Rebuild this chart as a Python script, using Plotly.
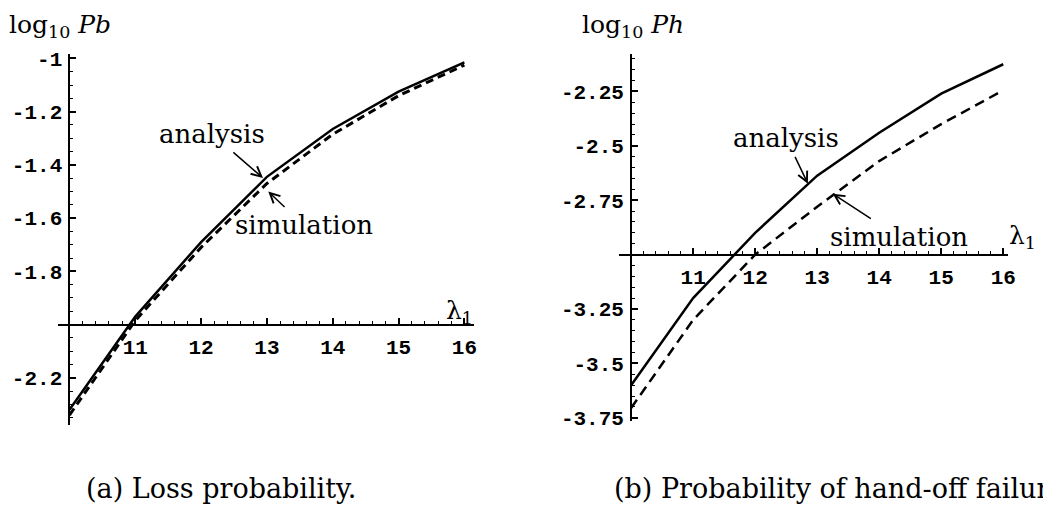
import plotly.graph_objects as go

W, H = 1043, 523

# arrival rate lambda_1
lam = [10, 11, 12, 13, 14, 15, 16]

# (a) log10 of loss probability
pb_analysis = [-2.32, -1.97, -1.69, -1.445, -1.265, -1.125, -1.015]
pb_simulation = [-2.34, -1.985, -1.71, -1.47, -1.285, -1.14, -1.025]

# (b) log10 of hand-off failure probability
ph_analysis = [-3.60, -3.20, -2.90, -2.637, -2.44, -2.26, -2.125]
ph_simulation = [-3.705, -3.30, -3.00, -2.78, -2.57, -2.40, -2.245]

x_ticks = [11, 12, 13, 14, 15, 16]
x_ticktext = ["11", "12", "13", "14", "15", "16"]
pb_ticks = [-2.2, -1.8, -1.6, -1.4, -1.2, -1.0]
pb_ticktext = ["-2.2", "-1.8", "-1.6", "-1.4", "-1.2", "-1"]
ph_ticks = [-3.75, -3.5, -3.25, -2.75, -2.5, -2.25]
ph_ticktext = ["-3.75", "-3.5", "-3.25", "-2.75", "-2.5", "-2.25"]

TICK_FONT = dict(family="Liberation Mono", size=21, color="black", weight="bold")
TEXT_FONT = "DejaVu Serif"


def panel(origin, origin_px, scale, xline, yline):
    """Axis layout for a Mathematica-style frame whose axes cross at `origin`."""
    (x0, y0), (ox, oy), (sx, sy) = origin, origin_px, scale
    xl, xr = xline
    yt, yb = yline
    xdom = [xl / W, xr / W]
    xrng = [x0 - (ox - xl) / sx, x0 + (xr - ox) / sx]
    ydom = [1 - yb / H, 1 - yt / H]
    yrng = [y0 - (yb - oy) / sy, y0 + (oy - yt) / sy]
    return xdom, xrng, 1 - oy / H, ydom, yrng, ox / W


def axis_common():
    return dict(
        showgrid=False, zeroline=False, showline=True, linecolor="black",
        linewidth=2, ticks="inside", ticklen=6, tickwidth=1.5, tickcolor="black",
        tickfont=TICK_FONT, anchor="free", fixedrange=True,
    )


a_xdom, a_xrng, a_xpos, a_ydom, a_yrng, a_ypos = panel(
    (10, -2.0), (70, 329), (66.33, 274), (58, 478), (50, 432))
b_xdom, b_xrng, b_xpos, b_ydom, b_yrng, b_ypos = panel(
    (10, -3.0), (636, 257), (62.5, 224), (624, 1016), (50, 428))

fig = go.Figure()
fig.add_trace(go.Scatter(x=lam, y=pb_analysis, mode="lines", xaxis="x", yaxis="y",
                         line=dict(color="black", width=2.5)))
fig.add_trace(go.Scatter(x=lam, y=pb_simulation, mode="lines", xaxis="x", yaxis="y",
                         line=dict(color="black", width=3, dash="8px,5px")))
fig.add_trace(go.Scatter(x=lam, y=ph_analysis, mode="lines", xaxis="x2", yaxis="y2",
                         line=dict(color="black", width=2.5)))
fig.add_trace(go.Scatter(x=lam, y=ph_simulation, mode="lines", xaxis="x2", yaxis="y2",
                         line=dict(color="black", width=2.5, dash="10px,6px")))

x_minor = dict(ticks="inside", ticklen=3, tickwidth=1, tickcolor="black", dtick=0.2, tick0=0)
y_minor = dict(ticks="inside", ticklen=3, tickwidth=1, tickcolor="black", dtick=0.05, tick0=0)

fig.update_layout(
    width=W, height=H, autosize=False,
    margin=dict(l=0, r=0, t=0, b=0),
    paper_bgcolor="white", plot_bgcolor="rgba(0,0,0,0)",
    showlegend=False,
    xaxis=dict(axis_common(), domain=a_xdom, range=a_xrng, position=a_xpos,
               tickmode="array", tickvals=x_ticks, ticktext=x_ticktext, minor=x_minor,
               ticklabelstandoff=3),
    yaxis=dict(axis_common(), domain=a_ydom, range=a_yrng, position=a_ypos,
               tickmode="array", tickvals=pb_ticks, ticktext=pb_ticktext, minor=y_minor,
               ticklabelstandoff=2),
    xaxis2=dict(axis_common(), domain=b_xdom, range=b_xrng, position=b_xpos,
                tickmode="array", tickvals=x_ticks, ticktext=x_ticktext, minor=x_minor,
                ticklabelstandoff=3),
    yaxis2=dict(axis_common(), domain=b_ydom, range=b_yrng, position=b_ypos,
                tickmode="array", tickvals=ph_ticks, ticktext=ph_ticktext, minor=y_minor,
                ticklabelstandoff=2),
)


def px(x, y):
    return x / W, 1 - y / H


def label(text, x, y, size=26, anchor="center"):
    fx, fy = px(x, y)
    fig.add_annotation(text=text, x=fx, y=fy, xref="paper", yref="paper",
                       xanchor=anchor, yanchor="middle", showarrow=False,
                       font=dict(family=TEXT_FONT, size=size, color="black"))


def callout(text, xref, yref, tip_x, tip_y, ax, ay):
    """Curve label with a thin open-headed arrow pointing at the curve."""
    fig.add_annotation(text=text, x=tip_x, y=tip_y, xref=xref, yref=yref,
                       showarrow=True, ax=ax, ay=ay, arrowhead=5, arrowsize=1.3,
                       arrowwidth=1.5, arrowcolor="black", standoff=0,
                       startstandoff=3,
                       font=dict(family=TEXT_FONT, size=26, color="black"))


# axis titles
label("log<sub>10</sub> <i>Pb</i>", 60, 22, size=25)
label("log<sub>10</sub> <i>Ph</i>", 638, 22, size=25)
label("λ<sub>1</sub>", 463, 316, size=25)
label("λ<sub>1</sub>", 1030, 239, size=25)

# curve labels with pointers
callout("analysis", "x", "y", 12.94, -1.449, -51, -44)
callout("simulation", "x", "y", 13.02, -1.50, 36, 34)
callout("analysis", "x2", "y2", 12.85, -2.674, -22, -46)
callout("simulation", "x2", "y2", 13.25, -2.72, 66, 43)

# sub-figure captions
label("(a) Loss probability.", 85, 498, size=27, anchor="left")
label("(b) Probability of hand-off failure.", 617, 498, size=27, anchor="left")

fig.write_html("out.html")
